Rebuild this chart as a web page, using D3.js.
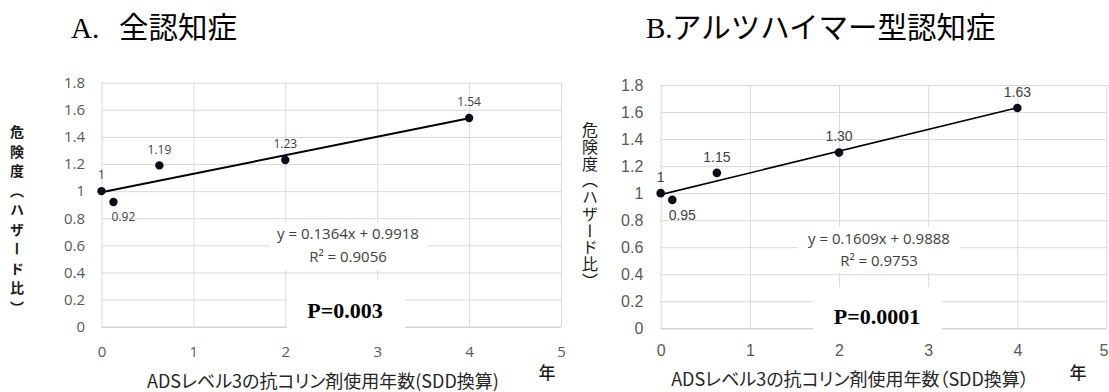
<!DOCTYPE html>
<html>
<head>
<meta charset="utf-8">
<script src="https://cdn.jsdelivr.net/npm/d3@7"></script>
<style>
  body { margin: 0; background: #ffffff; }
  svg { display: block; }
</style>
</head>
<body>
<svg width="1109" height="392"></svg>
<script>
// Years of use (SDD) and hazard ratios.
const years = [0, 0.13, 0.63, 2, 4];
const hrAll = [1, 0.92, 1.19, 1.23, 1.54];
const hrAlz = [1, 0.95, 1.15, 1.30, 1.63];
const labelsAll = ["1", "0.92", "1.19", "1.23", "1.54"];
const labelsAlz = ["1", "0.95", "1.15", "1.30", "1.63"];

const slopes = [0.1364, 0.1609];
const intercepts = [0.9918, 0.9888];
const rSquared = ["0.9056", "0.9753"];
const pValues = ["P=0.003", "P=0.0001"];

const xTicks = [0, 1, 2, 3, 4, 5];
const yTicks = [0, 0.2, 0.4, 0.6, 0.8, 1, 1.2, 1.4, 1.6, 1.8];
const yTickLabels = ["0", "0.2", "0.4", "0.6", "0.8", "1", "1.2", "1.4", "1.6", "1.8"];

const titleLetters = ["A.", "B."];
const titleTexts = ["全認知症", "アルツハイマー型認知症"];
const xTitles = ["ADSレベル3の抗コリン剤使用年数(SDD換算)", "ADSレベル3の抗コリン剤使用年数（SDD換算）"];
const yTitle = "危険度（ハザード比）";
const yearUnit = "年";

// Layout of each panel (pixels), kept apart from the values.
const panels = [
  {
    hr: hrAll, labels: labelsAll,
    x0: 101.5, x1: 561, yTop: 82.7, yBottom: 326.7,
    tickFont: "'Open Sans', sans-serif", tickSize: 15, xPad: 20, yPad: 16.5,
    labelFont: "'Open Sans', sans-serif", labelSize: 12,
    dot: 4.2, lineWidth: 2,
    eq: [348, 238.5, 262], eqBox: [270, 222, 158, 48],
    pBox: [287, 280, 118, 56], pText: [345, 317.5],
    title: [71, 119, 38], xTitle: [323, 388], unit: [547, 379],
    yTitle: {x: 17, y: 124.7, size: 14, weight: 700, spacing: 5.5},
    lastTickShift: 0
  },
  {
    hr: hrAlz, labels: labelsAlz,
    x0: 660.7, x1: 1106.5, yTop: 85, yBottom: 328.3,
    tickFont: "'Liberation Sans', Arial, sans-serif", tickSize: 16, xPad: 16, yPad: 17.4,
    labelFont: "'Liberation Sans', Arial, sans-serif", labelSize: 14,
    dot: 4.3, lineWidth: 1.6,
    eq: [879, 243.5, 266], eqBox: [798, 227, 162, 46],
    pBox: [813, 287, 129, 50], pText: [877, 323.5],
    title: [646, 672, 38], xTitle: [850, 386], unit: [1078, 379],
    yTitle: {x: 590, y: 122, size: 16, weight: 400, spacing: 0.75},
    lastTickShift: -3
  }
];

function styleTicks(g, p) {
  g.selectAll("text")
    .attr("fill", "#595959")
    .style("font-family", p.tickFont)
    .style("font-size", p.tickSize + "px");
}

function drawPanel(svg, p, i) {
  const xScale = d3.scaleLinear().domain([0, 5]).range([p.x0, p.x1]);
  const yScale = d3.scaleLinear().domain([0, 1.8]).range([p.yBottom, p.yTop]);
  const width = p.x1 - p.x0;
  const height = p.yBottom - p.yTop;

  // Horizontal gridlines plus the y tick labels.
  const yAxis = d3.axisLeft(yScale)
    .tickValues(yTicks)
    .tickSize(-width)
    .tickPadding(p.yPad)
    .tickFormat((d, k) => yTickLabels[k]);

  const gy = svg.append("g")
    .attr("transform", "translate(" + p.x0 + ",0)")
    .call(yAxis);
  gy.select(".domain").remove();
  gy.selectAll("line").attr("stroke", d => d === 0 ? "#bfbfbf" : "#d9d9d9");
  styleTicks(gy, p);

  // Vertical gridlines plus the x tick labels.
  const xAxis = d3.axisBottom(xScale)
    .tickValues(xTicks)
    .tickSize(-height)
    .tickPadding(p.xPad)
    .tickFormat(d3.format("d"));

  const gx = svg.append("g")
    .attr("transform", "translate(0," + p.yBottom + ")")
    .call(xAxis);
  gx.select(".domain").remove();
  gx.selectAll("line").attr("stroke", "#d9d9d9");
  styleTicks(gx, p);
  // The last label touches the page edge on the right panel.
  gx.selectAll("text").filter(d => d === 5).attr("dx", p.lastTickShift);

  // Label boxes sit on top of the grid.
  svg.append("rect")
    .attr("x", p.eqBox[0]).attr("y", p.eqBox[1])
    .attr("width", p.eqBox[2]).attr("height", p.eqBox[3])
    .attr("fill", "#ffffff");

  svg.append("rect")
    .attr("x", p.pBox[0]).attr("y", p.pBox[1])
    .attr("width", p.pBox[2]).attr("height", p.pBox[3])
    .attr("fill", "#ffffff");

  // Linear trend line over the data range.
  const trend = [0, 4].map(x => [x, slopes[i] * x + intercepts[i]]);
  svg.append("path")
    .datum(trend)
    .attr("fill", "none")
    .attr("stroke", "#000000")
    .attr("stroke-width", p.lineWidth)
    .attr("d", d3.line().x(d => xScale(d[0])).y(d => yScale(d[1])));

  const points = years.map((x, k) => ({x: x, y: p.hr[k], label: p.labels[k]}));

  svg.append("g").selectAll("circle")
    .data(points)
    .enter()
    .append("circle")
    .attr("cx", d => xScale(d.x))
    .attr("cy", d => yScale(d.y))
    .attr("r", p.dot)
    .attr("fill", "#0d0d1a");

  // Labels above the points, except the dip, which is labelled below.
  svg.append("g").selectAll("text")
    .data(points)
    .enter()
    .append("text")
    .attr("x", (d, k) => xScale(d.x) + (k === 1 ? 10 : 0))
    .attr("y", (d, k) => yScale(d.y) + (k === 1 ? 15 : -16))
    .attr("dy", "0.35em")
    .attr("text-anchor", "middle")
    .attr("fill", "#404040")
    .style("font-family", p.labelFont)
    .style("font-size", p.labelSize + "px")
    .text(d => d.label);

  const eqText = svg.append("g")
    .attr("fill", "#404040")
    .attr("text-anchor", "middle")
    .style("font-family", "'Open Sans', sans-serif")
    .style("font-size", "15px");
  eqText.append("text")
    .attr("x", p.eq[0]).attr("y", p.eq[1])
    .text("y = " + slopes[i] + "x + " + intercepts[i]);
  eqText.append("text")
    .attr("x", p.eq[0]).attr("y", p.eq[2])
    .text("R² = " + rSquared[i]);

  svg.append("text")
    .attr("x", p.pText[0]).attr("y", p.pText[1])
    .attr("text-anchor", "middle")
    .style("font-family", "'Liberation Serif', serif")
    .style("font-weight", 700)
    .style("font-size", "22px")
    .text(pValues[i]);

  // Panel title.
  const title = svg.append("text")
    .attr("y", p.title[2])
    .attr("fill", "#000000");
  title.append("tspan")
    .attr("x", p.title[0])
    .style("font-family", "'Liberation Serif', serif")
    .style("font-size", "29px")
    .text(titleLetters[i]);
  title.append("tspan")
    .attr("x", p.title[1])
    .style("font-family", "'Noto Sans CJK JP', sans-serif")
    .style("font-weight", 400)
    .style("font-size", "29.5px")
    .text(titleTexts[i]);

  svg.append("text")
    .attr("x", p.xTitle[0]).attr("y", p.xTitle[1])
    .attr("text-anchor", "middle")
    .attr("fill", "#262626")
    .style("font-family", "'Noto Sans CJK JP', sans-serif")
    .style("font-feature-settings", "'palt'")
    .style("font-size", "18px")
    .text(xTitles[i]);

  svg.append("text")
    .attr("x", p.unit[0]).attr("y", p.unit[1])
    .attr("text-anchor", "middle")
    .attr("fill", "#1a1a1a")
    .style("font-family", "'Noto Sans CJK JP', sans-serif")
    .style("font-weight", 500)
    .style("font-size", "17px")
    .text(yearUnit);

  // Y title set vertically, as in the original figure.
  const t = p.yTitle;
  svg.append("text")
    .attr("x", t.x).attr("y", t.y)
    .attr("fill", "#1a1a1a")
    .style("writing-mode", "vertical-rl")
    .style("font-family", "'Noto Sans CJK JP', sans-serif")
    .style("font-weight", t.weight)
    .style("font-size", t.size + "px")
    .style("letter-spacing", t.spacing + "px")
    .text(yTitle);
}

window.addEventListener("load", function() {
  const svg = d3.select("svg");
  panels.forEach((p, i) => drawPanel(svg, p, i));
});
</script>
</body>
</html>
